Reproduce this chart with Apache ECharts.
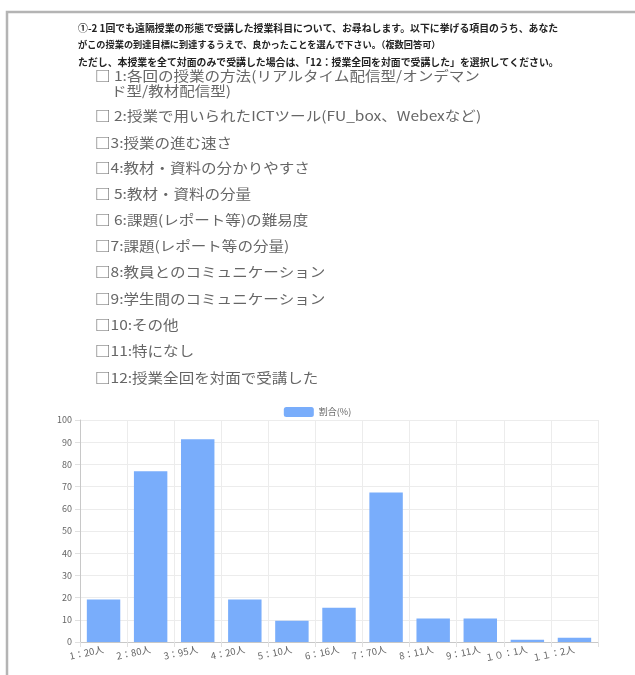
<!DOCTYPE html>
<html>
<head>
<meta charset="utf-8">
<script src="https://cdn.jsdelivr.net/npm/echarts@6/dist/echarts.min.js"></script>
<style>
  html, body { margin: 0; padding: 0; background: #fff; }
  #chart { width: 635px; height: 675px; }
</style>
</head>
<body>
<div id="chart"></div>
<script>
// Question text shown above the chart
const questionLines = [
  '①-2 1回でも遠隔授業の形態で受講した授業科目について、お尋ねします。以下に挙げる項目のうち、あなた',
  'がこの授業の到達目標に到達するうえで、良かったことを選んで下さい。（複数回答可）',
  'ただし、本授業を全て対面のみで受講した場合は、「12：授業全回を対面で受講した」を選択してください。'
];
const questionFontSize = [9.9, 9.2, 9.9];

// Answer options (each entry is one or two display lines)
const options = [
  ['□ 1:各回の授業の方法(リアルタイム配信型/オンデマン', 'ド型/教材配信型)'],
  ['□ 2:授業で用いられたICTツール(FU_box、Webexなど)'],
  ['□3:授業の進む速さ'],
  ['□4:教材・資料の分かりやすさ'],
  ['□ 5:教材・資料の分量'],
  ['□ 6:課題(レポート等)の難易度'],
  ['□7:課題(レポート等の分量)'],
  ['□8:教員とのコミュニケーション'],
  ['□9:学生間のコミュニケーション'],
  ['□10:その他'],
  ['□11:特になし'],
  ['□12:授業全回を対面で受講した']
];

// Chart data
const categories = ['1：20人', '2：80人', '3：95人', '4：20人', '5：10人', '6：16人',
                    '7：70人', '8：11人', '9：11人', '１０：1人', '１１：2人'];
const ratio = [19.2, 76.9, 91.3, 19.2, 9.6, 15.4, 67.3, 10.6, 10.6, 1.0, 1.9];
const seriesName = '割合(%)';
const yTicks = { min: 0, max: 100, interval: 10 };

const FONT = '"Noto Sans CJK JP", "Noto Sans", sans-serif';
const BAR = '#79adfb';

const graphics = [];
// page frame
graphics.push({
  type: 'polyline',
  shape: { points: [[7, 680], [7, 12], [640, 12]] },
  style: { stroke: '#b4b4b4', lineWidth: 2.5, fill: null }
});
// question header
const headerY = [28, 45, 62];
questionLines.forEach((t, i) => {
  graphics.push({
    type: 'text', x: 78, y: headerY[i],
    style: { text: t, font: 'bold ' + questionFontSize[i] + 'px ' + FONT, fill: '#222', verticalAlign: 'middle' }
  });
});
// option list (slightly widened glyphs)
const optionY = [76, 116, 143, 168, 194, 220, 246, 272, 299, 325, 351, 378];
options.forEach((lines, i) => {
  lines.forEach((t, j) => {
    graphics.push({
      type: 'text', x: j === 0 ? 95 : 111, y: optionY[i] + j * 15,
      scaleX: 1.15,
      style: { text: t, font: '13.5px ' + FONT, fill: '#666', verticalAlign: 'middle' }
    });
  });
});

const chart = echarts.init(document.getElementById('chart'));
chart.setOption({
  animation: false,
  textStyle: { fontFamily: FONT },
  graphic: graphics,
  legend: {
    top: 402, left: 'center',
    itemWidth: 30, itemHeight: 10, itemGap: 6,
    textStyle: { fontSize: 9, color: '#666' },
    data: [seriesName]
  },
  grid: { left: 80, right: 37, top: 420, bottom: 33, containLabel: false },
  xAxis: {
    type: 'category',
    data: categories,
    axisLine: { lineStyle: { color: '#c8c8c8' } },
    axisTick: { show: true, length: 5, lineStyle: { color: '#e0e0e0' } },
    splitLine: { show: true, lineStyle: { color: '#ececec' } },
    axisLabel: { rotate: 12, fontSize: 9.5, color: '#666', margin: 7, interval: 0 }
  },
  yAxis: {
    type: 'value',
    min: yTicks.min, max: yTicks.max, interval: yTicks.interval,
    axisLine: { show: true, lineStyle: { color: '#c8c8c8' } },
    axisTick: { show: true, length: 5, lineStyle: { color: '#e0e0e0' } },
    splitLine: { lineStyle: { color: '#ececec' } },
    axisLabel: { fontSize: 9, color: '#666', margin: 8 }
  },
  series: [{
    name: seriesName,
    type: 'bar',
    data: ratio,
    barCategoryGap: '29%',
    itemStyle: { color: BAR }
  }]
});
</script>
</body>
</html>
